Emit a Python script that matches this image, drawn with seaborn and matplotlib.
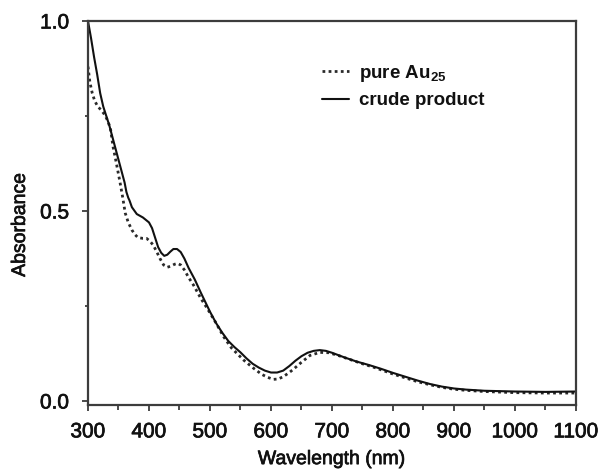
import numpy as np
import pandas as pd
import matplotlib
matplotlib.use("Agg")
import matplotlib.pyplot as plt
import matplotlib.patheffects as pe
from matplotlib.ticker import MultipleLocator
import seaborn as sns

# UV-vis absorption spectra (wavelength in nm, absorbance)
wl_crude = [300, 305, 310, 315, 320, 325, 330, 335, 340, 345, 350, 355, 360, 363,
            366, 368, 372, 380, 390, 400, 405, 410, 415, 420, 425, 430, 435, 440,
            446, 452, 458, 465, 475, 485, 500, 510, 520, 530, 540, 550, 560, 570,
            580, 590, 600, 610, 620, 630, 640, 650, 660, 670, 680, 690, 700, 720,
            740, 760, 780, 800, 820, 840, 860, 880, 900, 920, 950, 1000, 1050, 1100]
abs_crude = [1.000, 0.955, 0.905, 0.860, 0.810, 0.775, 0.750, 0.725, 0.695, 0.665,
             0.635, 0.605, 0.575, 0.550, 0.535, 0.528, 0.510, 0.492, 0.483, 0.470,
             0.455, 0.430, 0.405, 0.390, 0.382, 0.385, 0.393, 0.400, 0.400, 0.392,
             0.375, 0.350, 0.320, 0.285, 0.235, 0.205, 0.180, 0.158, 0.142, 0.128,
             0.112, 0.098, 0.088, 0.080, 0.075, 0.075, 0.080, 0.092, 0.106, 0.118,
             0.127, 0.132, 0.134, 0.132, 0.127, 0.115, 0.104, 0.095, 0.085, 0.074,
             0.064, 0.054, 0.045, 0.038, 0.033, 0.030, 0.027, 0.025, 0.024, 0.025]

wl_pure = [300, 303, 307, 311, 316, 322, 328, 333, 337, 341, 346, 352, 357, 361,
           366, 372, 377, 382, 390, 396, 402, 407, 412, 418, 424, 430, 436, 442,
           447, 452, 458, 465, 473, 485, 495, 510, 522, 535, 555, 570, 585, 595,
           604, 612, 620, 630, 637, 650, 664, 680, 695, 710, 730, 750, 770, 800,
           820, 840, 860, 880, 900, 920, 950, 1000, 1050, 1100]
abs_pure = [0.880, 0.840, 0.810, 0.790, 0.775, 0.765, 0.752, 0.735, 0.715, 0.670,
            0.630, 0.580, 0.535, 0.495, 0.470, 0.450, 0.438, 0.430, 0.428, 0.428,
            0.420, 0.410, 0.395, 0.375, 0.358, 0.352, 0.355, 0.360, 0.362, 0.358,
            0.345, 0.325, 0.305, 0.270, 0.245, 0.205, 0.170, 0.140, 0.108, 0.088,
            0.070, 0.062, 0.057, 0.058, 0.064, 0.075, 0.084, 0.102, 0.120, 0.128,
            0.127, 0.120, 0.109, 0.098, 0.088, 0.071, 0.061, 0.051, 0.043, 0.036,
            0.031, 0.028, 0.025, 0.022, 0.021, 0.021]

label_pure = "pure Au$_{25}$"
label_crude = "crude product"

x_ticks = [300, 400, 500, 600, 700, 800, 900, 1000, 1100]
y_ticks = [0.0, 0.5, 1.0]

sns.set_theme(style="ticks")
plt.rcParams["font.family"] = ["Liberation Sans", "DejaVu Sans"]
plt.rcParams["mathtext.default"] = "regular"

df_crude = pd.DataFrame({"Wavelength": wl_crude, "Absorbance": abs_crude})
df_pure = pd.DataFrame({"Wavelength": wl_pure, "Absorbance": abs_pure})

fig = plt.figure(figsize=(6.01, 4.71), dpi=100)
ax = fig.add_axes([0.1464, 0.1401, 0.8120, 0.8153])

sns.lineplot(data=df_pure, x="Wavelength", y="Absorbance", ax=ax,
             color="#2a2a2a", linewidth=2.0, linestyle=(0, (1, 1.2)),
             label=label_pure)
sns.lineplot(data=df_crude, x="Wavelength", y="Absorbance", ax=ax,
             color="#111111", linewidth=1.5, label=label_crude)

ax.set_xlim(300, 1100)
ax.set_ylim(-0.0105, 1.0)
ax.set_xticks(x_ticks)
ax.set_xticklabels([str(v) for v in x_ticks])
ax.set_yticks(y_ticks)
ax.set_yticklabels([f"{v:.1f}" for v in y_ticks])
ax.xaxis.set_minor_locator(MultipleLocator(50))
ax.yaxis.set_minor_locator(MultipleLocator(0.25))

spine_color = "#3c3c3c"
for s in ax.spines.values():
    s.set_visible(True)
    s.set_color(spine_color)
    s.set_linewidth(1.6)

ax.tick_params(axis="both", which="major", direction="out", length=4.5,
               width=1.3, color=spine_color, labelsize=15, labelcolor="#111111")
ax.tick_params(axis="x", which="major", pad=8)
ax.tick_params(axis="y", which="major", pad=9)
ax.tick_params(axis="x", which="minor", direction="out", length=3.5,
               width=1.3, color=spine_color)
ax.tick_params(axis="y", which="minor", direction="out", length=2,
               width=1.3, color=spine_color)

# slightly heavier strokes for the axis text
heavy = [pe.withStroke(linewidth=0.5, foreground="#111111")]
for t in ax.get_xticklabels() + ax.get_yticklabels():
    t.set_path_effects(heavy)

ax.set_xlabel("Wavelength (nm)", fontsize=14, color="#111111", labelpad=7,
              path_effects=heavy)
ax.set_ylabel("Absorbance", fontsize=14, color="#111111", path_effects=heavy)
ax.yaxis.set_label_coords(-0.121, 0.47)

leg = ax.legend(loc="upper left", bbox_to_anchor=(0.445, 0.935), frameon=False,
                handlelength=1.45, handletextpad=0.5, labelspacing=0.45,
                prop={"weight": "bold", "size": 13.5})
for t in leg.get_texts():
    t.set_color("#111111")

fig.savefig("out.png", dpi=100)
